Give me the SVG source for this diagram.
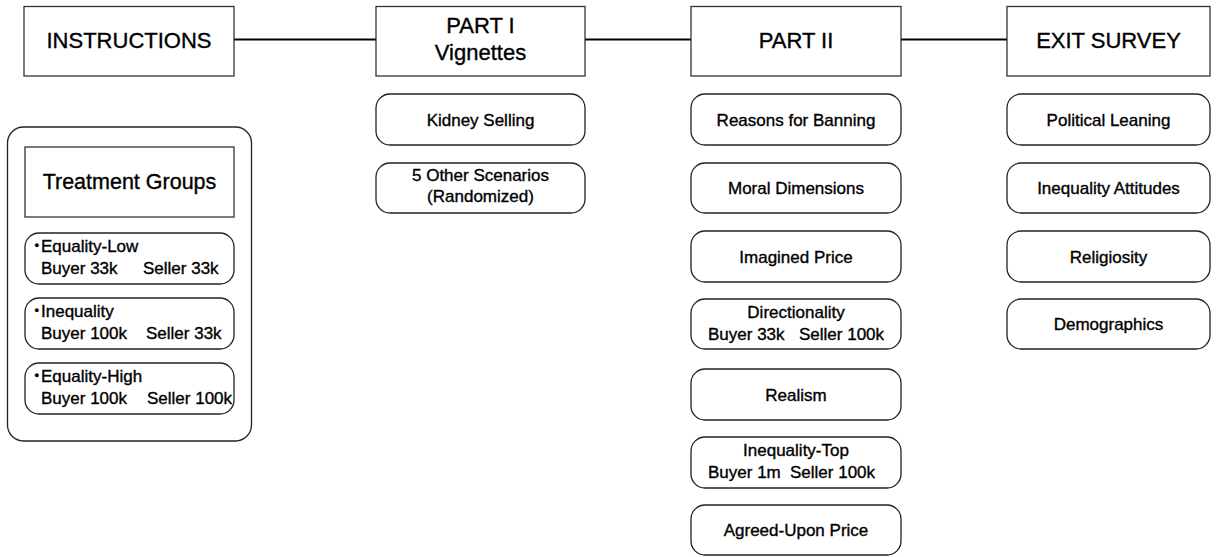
<svg xmlns="http://www.w3.org/2000/svg" width="1217" height="557" viewBox="0 0 1217 557">
<style>
  .hdr { fill: #fff; stroke: #333; stroke-width: 1.3; }
  .sub { fill: #fff; stroke: #222; stroke-width: 1.3; }
  .conn { stroke: #000; stroke-width: 2; fill: none; }
  text { font-family: "Liberation Sans", Arial, sans-serif; fill: #000; stroke: #000; stroke-width: 0.35px; }
  .h { font-size: 22px; text-anchor: middle; }
  .s { font-size: 17px; text-anchor: middle; }
  .l { font-size: 17px; }
  .b { font-size: 13px; }
</style>
<rect width="1217" height="557" fill="#fff"/>
<g id="connectors">
  <line class="conn" x1="234" y1="39.5" x2="376" y2="39.5"/>
  <line class="conn" x1="585" y1="39.5" x2="691" y2="39.5"/>
  <line class="conn" x1="901" y1="39.5" x2="1007" y2="39.5"/>
</g>
<g id="instructions">
  <rect class="hdr" x="24" y="6.5" width="210" height="69.5"/>
  <text class="h" x="129" y="48">INSTRUCTIONS</text>
</g>
<g id="part1">
  <rect class="hdr" x="376" y="6.5" width="209" height="69.5"/>
  <text class="h" x="480.5" y="33">PART I</text>
  <text class="h" x="480.5" y="60">Vignettes</text>
</g>
<g id="part2">
  <rect class="hdr" x="691" y="6.5" width="210" height="69.5"/>
  <text class="h" x="796" y="48">PART II</text>
</g>
<g id="exit">
  <rect class="hdr" x="1007" y="6.5" width="203" height="69.5"/>
  <text class="h" x="1108.5" y="48">EXIT SURVEY</text>
</g>
<g id="treatment-panel">
  <rect class="sub" x="7.5" y="127" width="244" height="314" rx="16"/>
</g>
<g id="treatment-groups">
  <rect class="hdr" x="25" y="147" width="209" height="70"/>
  <text x="129.5" y="189" style="font-size:21.5px;text-anchor:middle">Treatment Groups</text>
</g>
<g id="equality-low">
  <rect class="sub" x="25" y="233" width="209" height="51" rx="14"/>
  <text class="b" x="34.5" y="250">•</text>
  <text class="l" x="41" y="252">Equality-Low</text>
  <text class="l" x="41" y="274">Buyer 33k</text>
  <text class="l" x="143" y="274">Seller 33k</text>
</g>
<g id="inequality">
  <rect class="sub" x="25" y="298" width="209" height="51" rx="14"/>
  <text class="b" x="34.5" y="315">•</text>
  <text class="l" x="41" y="317">Inequality</text>
  <text class="l" x="41" y="339">Buyer 100k</text>
  <text class="l" x="146" y="339">Seller 33k</text>
</g>
<g id="equality-high">
  <rect class="sub" x="25" y="363" width="209" height="51" rx="14"/>
  <text class="b" x="34.5" y="380">•</text>
  <text class="l" x="41" y="382">Equality-High</text>
  <text class="l" x="41" y="404">Buyer 100k</text>
  <text class="l" x="147" y="404">Seller 100k</text>
</g>
<g id="kidney">
  <rect class="sub" x="376" y="94" width="209" height="51" rx="14"/>
  <text class="s" x="480.5" y="125.5">Kidney Selling</text>
</g>
<g id="other-scenarios">
  <rect class="sub" x="376" y="163" width="209" height="50" rx="14"/>
  <text class="s" x="480.5" y="181">5 Other Scenarios</text>
  <text class="s" x="480.5" y="202">(Randomized)</text>
</g>
<g id="reasons">
  <rect class="sub" x="691" y="94" width="210" height="51" rx="14"/>
  <text class="s" x="796" y="125.5">Reasons for Banning</text>
</g>
<g id="moral">
  <rect class="sub" x="691" y="163" width="210" height="50" rx="14"/>
  <text class="s" x="796" y="194">Moral Dimensions</text>
</g>
<g id="imagined">
  <rect class="sub" x="691" y="231" width="210" height="51" rx="14"/>
  <text class="s" x="796" y="262.5">Imagined Price</text>
</g>
<g id="directionality">
  <rect class="sub" x="691" y="299" width="210" height="50" rx="14"/>
  <text class="s" x="796" y="318">Directionality</text>
  <text class="l" x="708" y="340">Buyer 33k</text>
  <text class="l" x="799" y="340">Seller 100k</text>
</g>
<g id="realism">
  <rect class="sub" x="691" y="369" width="210" height="51" rx="14"/>
  <text class="s" x="796" y="400.5">Realism</text>
</g>
<g id="inequality-top">
  <rect class="sub" x="691" y="437" width="210" height="51" rx="14"/>
  <text class="s" x="796" y="456">Inequality-Top</text>
  <text class="l" x="708" y="478">Buyer 1m</text>
  <text class="l" x="790" y="478">Seller 100k</text>
</g>
<g id="agreed">
  <rect class="sub" x="691" y="505" width="210" height="50" rx="14"/>
  <text class="s" x="796" y="536">Agreed-Upon Price</text>
</g>
<g id="political">
  <rect class="sub" x="1007" y="94" width="203" height="51" rx="14"/>
  <text class="s" x="1108.5" y="125.5">Political Leaning</text>
</g>
<g id="inequality-attitudes">
  <rect class="sub" x="1007" y="163" width="203" height="50" rx="14"/>
  <text class="s" x="1108.5" y="194">Inequality Attitudes</text>
</g>
<g id="religiosity">
  <rect class="sub" x="1007" y="231" width="203" height="51" rx="14"/>
  <text class="s" x="1108.5" y="262.5">Religiosity</text>
</g>
<g id="demographics">
  <rect class="sub" x="1007" y="299" width="203" height="50" rx="14"/>
  <text class="s" x="1108.5" y="330">Demographics</text>
</g>
</svg>
